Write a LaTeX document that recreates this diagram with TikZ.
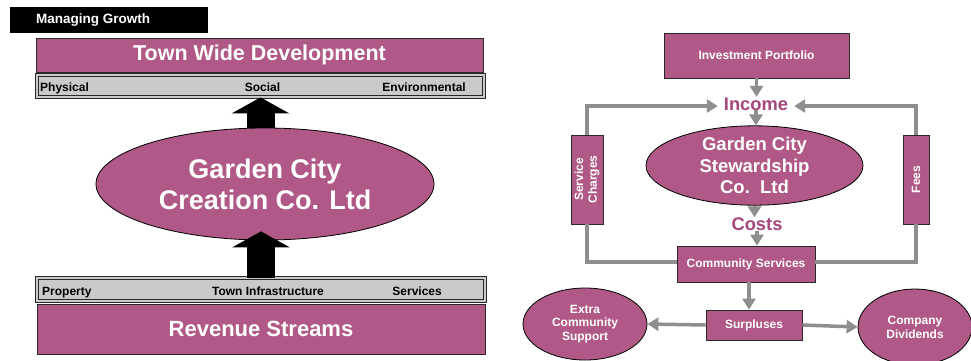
\documentclass[tikz,border=0pt]{standalone}
\usepackage{fontspec}
\setmainfont{Liberation Sans}
\usetikzlibrary{shapes.geometric,arrows.meta,calc}
\definecolor{plum}{RGB}{176,89,134}
\definecolor{plumtext}{RGB}{165,70,125}
\definecolor{bargray}{RGB}{202,202,202}
\definecolor{flowgray}{RGB}{142,142,142}
\definecolor{edge}{RGB}{40,40,40}

\begin{document}
\begin{tikzpicture}[x=1pt,y=-1pt,
  every node/.style={inner sep=0pt},
  fs/.style={font=\bfseries\pgfmathsetmacro\fsbase{1.15*#1}\fontsize{#1}{\fsbase}\selectfont},
  plumbox/.style={draw=edge, line width=0.8pt, fill=plum, text=white, rectangle},
  plumoval/.style={draw=black, line width=0.8pt, fill=plum, text=white, ellipse, align=center},
  tagbar/.style={draw=edge, line width=0.8pt, double=bargray, double distance=1.6pt, fill=bargray, rectangle},
  tagtext/.style={fs=12, text=black},
  bigarrow/.style={line width=28pt, -{Triangle[width=57pt,length=16pt]}},
  flow/.style={draw=flowgray, line width=3.5pt, -{Triangle[width=13pt,length=11pt]}},
  link/.style={draw=flowgray, line width=3.5pt},
  flowword/.style={fs=18.3, text=plumtext, inner xsep=6pt, text height=13pt, text depth=0pt},
]
\clip (0,0) rectangle (971,360);
\fill[white] (0,0) rectangle (971,360);

% ---------- left panel: town wide development ----------
\node[fill=black, minimum width=198pt, minimum height=26pt, anchor=north west] (mgbox) at (10,7) {};
\node[fs=13.5, text=white, anchor=west] (mgtitle) at (36,20) {Managing Growth};

\node[plumbox, minimum width=447pt, minimum height=34pt, fs=21.5] (twd) at (259.5,55) {Town Wide Development};

\node[tagbar, minimum width=447pt, minimum height=22pt] (topbar) at (260.5,86) {};
\node[tagtext, anchor=base west] (phys) at (40,91) {Physical};
\node[tagtext, anchor=base] (soc) at (262.5,91) {Social};
\node[tagtext, anchor=base east] (env) at (466,91) {Environmental};

\node[plumoval, minimum width=338pt, minimum height=112pt, fs=27] (gcc) at (265,184) {Garden City\\Creation Co. Ltd};

\node[tagbar, minimum width=448pt, minimum height=23pt] (botbar) at (261,289.5) {};
\node[tagtext, anchor=base west] (prop) at (42,295) {Property};
\node[tagtext, anchor=base] (infra) at (268,295) {Town Infrastructure};
\node[tagtext, anchor=base east] (serv) at (442,295) {Services};

\node[plumbox, minimum width=448pt, minimum height=50pt, fs=22] (rev) at (261,329) {Revenue Streams};

\coordinate (gccfoot) at ($(botbar.north |- gcc.south)+(0,-9)$);
\draw[bigarrow] (topbar.south |- gcc.north) -- (topbar.south);
\draw[bigarrow] (botbar.north) -- (gccfoot);

% ---------- right panel: stewardship cycle ----------
\node[plumbox, minimum width=185pt, minimum height=45pt, fs=12] (invest) at (756.5,55.5) {Investment Portfolio};
\node[flowword] (income) at (756,103.5) {Income};
\node[plumoval, minimum width=217pt, minimum height=75pt, fs=18.5] (gso) at (754.5,165.5) {Garden City\\Stewardship\\Co.\ \ Ltd};
\node[flowword] (costs) at (757,224) {Costs};

\node[plumbox, minimum width=32pt, minimum height=89pt] (sc) at (587,179.5) {};
\node[fs=12, text=white, rotate=90, align=center] (sctext) at (sc.center) {Service\\Charges};
\node[plumbox, minimum width=26pt, minimum height=89pt] (fees) at (916,179.5) {};
\node[fs=12, text=white, rotate=90] (feestext) at (fees.center) {Fees};

\node[plumbox, minimum width=138pt, minimum height=36pt, fs=12] (cs) at (746,264) {Community Services};
\node[plumbox, minimum width=96pt, minimum height=30pt, fs=12] (surp) at (754,325) {Surpluses};

\node[plumoval, minimum width=124pt, minimum height=72pt, fs=12] (extra) at (585,324) {Extra\\Community\\Support};
\node[plumoval, minimum width=114pt, minimum height=76pt, fs=12] (div) at (915,327) {Company\\Dividends};

\draw[flow] (invest.south) -- (invest.south |- income.north);
\draw[flow] (income.south) -- (income.south |- gso.north);
\draw[flow] (sc.north) |- ([yshift=-2.5pt]income.west);
\draw[flow] (fees.north) |- ([yshift=-2.5pt]income.east);
\draw[flow] (gso.south) -- (gso.south |- costs.north);
\draw[flow] (costs.south) -- (costs.south |- cs.north);
\draw[link] (sc.south) |- ([yshift=2pt]cs.west);
\draw[link] (fees.south) |- ([yshift=2pt]cs.east);
\coordinate (csdrop) at ([xshift=3pt]cs.south);
\draw[flow] (csdrop) -- (csdrop |- surp.north);
\draw[flow] (surp.west) -- (extra.east);
\draw[flow] (surp.east) -- (div.west);
\end{tikzpicture}
\end{document}
